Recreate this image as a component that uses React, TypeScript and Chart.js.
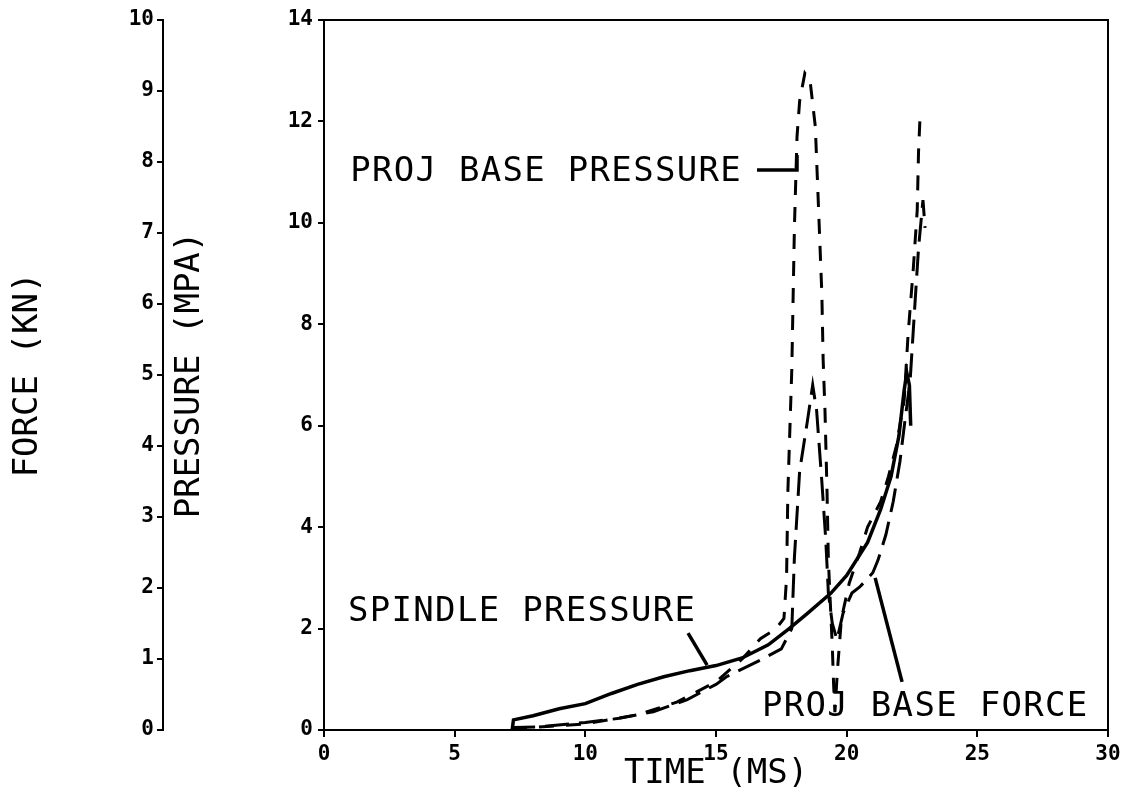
import React, { useEffect, useRef } from 'react';
import { Chart, registerables } from 'chart.js';

Chart.register(...registerables);

// ---- Data (time in ms, pressure in MPa) ----
const spindleTime = [7.2, 7.25, 8, 9, 10, 11, 12, 13, 14, 15, 16, 17, 17.8, 18.5, 19.4, 20, 20.8, 21.3, 21.7, 22.0, 22.2, 22.3, 22.4, 22.45];
const spindlePressure = [0.0, 0.2, 0.28, 0.42, 0.52, 0.72, 0.9, 1.05, 1.17, 1.27, 1.42, 1.68, 2.0, 2.3, 2.7, 3.05, 3.7, 4.35, 5.0, 5.8, 6.7, 7.05, 6.8, 6.0];

const forceTime = [7.2, 7.3, 8.15, 10, 11.3, 12.6, 13.9, 15, 15.4, 16.7, 17.5, 17.9, 18.0, 18.2, 18.5, 18.7, 18.85, 19.05, 19.2, 19.3, 19.45, 19.63, 19.86, 20.2, 20.5, 21.0, 21.2, 21.5, 21.78, 22.04, 22.23, 22.43, 22.6, 22.75, 22.92, 23.0];
const forceValue = [0.0, 0.05, 0.06, 0.15, 0.23, 0.36, 0.6, 0.9, 1.05, 1.38, 1.6, 2.0, 3.4, 5.1, 6.1, 6.8, 6.3, 4.9, 3.75, 2.7, 2.1, 1.78, 2.3, 2.7, 2.82, 3.1, 3.35, 3.85, 4.5, 5.3, 6.1, 6.9, 8.3, 9.5, 10.45, 9.9];

const basePressureTime = [7.2, 8, 10, 12, 13.5, 15, 16, 16.7, 17.3, 17.6, 17.7, 17.75, 17.9, 18.0, 18.1, 18.2, 18.4, 18.6, 18.8, 18.9, 19.05, 19.1, 19.17, 19.25, 19.3, 19.45, 19.5, 19.55, 19.65, 19.8, 20.1, 20.5, 20.8, 21.3, 21.6, 21.9, 22.2, 22.35, 22.55, 22.7, 22.75, 22.8];
const basePressureValue = [0.0, 0.05, 0.12, 0.3, 0.55, 0.95, 1.4, 1.8, 2.0, 2.2, 3.0, 4.7, 7.1, 9.9, 11.7, 12.4, 12.95, 12.8, 11.9, 10.6, 8.6, 7.3, 6.3, 4.67, 3.35, 1.65, 0.9, 0.35, 1.2, 2.2, 2.9, 3.5, 4.0, 4.5, 5.0, 5.6, 6.5, 7.8, 9.1, 10.25, 11.4, 12.0];

// Axis ranges / ticks
const timeRange = [0, 30];
const timeStep = 5;
const pressureRange = [0, 14];
const pressureStep = 2;
const forceRange = [0, 10];
const forceStep = 1;

// Label annotations (data coordinates on time / pressure axes)
const labelTexts = ['PROJ BASE PRESSURE', 'SPINDLE PRESSURE', 'PROJ BASE FORCE'];
const labelAnchors = [[1.0, 11.0], [0.92, 2.33], [16.76, 0.45]];
const labelPointers = [
  [[16.57, 11.04], [18.1, 11.04], [18.1, 11.34]],
  [[13.93, 1.91], [14.66, 1.28]],
  [[21.09, 3.0], [22.12, 0.95]],
];

const FONT = '"DejaVu Sans Mono", monospace';

const toPoints = (xs: number[], ys: number[]) => xs.map((x, i) => ({ x, y: ys[i] }));

const framePlugin = {
  id: 'frameAndLabels',
  beforeDraw(chart: any) {
    const ctx = chart.ctx;
    ctx.fillStyle = '#fff';
    ctx.fillRect(0, 0, chart.width, chart.height);
  },
  afterDraw(chart: any) {
    const { ctx, chartArea, scales } = chart;
    const xs = scales.x;
    const ys = scales.y;
    ctx.save();
    ctx.strokeStyle = '#000';
    ctx.lineWidth = 2;
    ctx.strokeRect(chartArea.left, chartArea.top, chartArea.right - chartArea.left, chartArea.bottom - chartArea.top);

    ctx.font = `34px ${FONT}`;
    (ctx as any).letterSpacing = '1.3px';
    ctx.textBaseline = 'middle';
    ctx.textAlign = 'left';
    ctx.fillStyle = '#000';
    labelTexts.forEach((t, i) => {
      const [ax, ay] = labelAnchors[i];
      ctx.fillText(t, xs.getPixelForValue(ax), ys.getPixelForValue(ay));
      const pts = labelPointers[i];
      ctx.beginPath();
      ctx.lineWidth = 3.5;
      pts.forEach(([px, py], j) => {
        const X = xs.getPixelForValue(px);
        const Y = ys.getPixelForValue(py);
        if (j === 0) ctx.moveTo(X, Y);
        else ctx.lineTo(X, Y);
      });
      ctx.stroke();
    });
    ctx.restore();
  },
};

const tickFont = { family: FONT, size: 21, weight: 'bold' as const };
const titleFont = { family: FONT, size: 34 };

export default function App() {
  const ref = useRef<HTMLCanvasElement>(null);

  useEffect(() => {
    if (!ref.current) return;
    const chart = new Chart(ref.current, {
      type: 'line',
      data: {
        datasets: [
          {
            label: 'Spindle pressure',
            data: toPoints(spindleTime, spindlePressure),
            borderColor: '#000',
            borderWidth: 3.5,
            pointRadius: 0,
            tension: 0,
            fill: false,
            yAxisID: 'y',
          },
          {
            label: 'Proj base force',
            data: toPoints(forceTime, forceValue),
            borderColor: '#000',
            borderWidth: 3,
            borderDash: [24, 10],
            pointRadius: 0,
            tension: 0,
            fill: false,
            yAxisID: 'y',
          },
          {
            label: 'Proj base pressure',
            data: toPoints(basePressureTime, basePressureValue),
            borderColor: '#000',
            borderWidth: 3,
            borderDash: [15, 12],
            pointRadius: 0,
            tension: 0,
            fill: false,
            yAxisID: 'y',
          },
        ],
      },
      options: {
        responsive: false,
        animation: false,
        devicePixelRatio: 1,
        layout: { padding: { left: 0, right: 21, top: 20, bottom: 0 } },
        plugins: { legend: { display: false }, tooltip: { enabled: false } },
        scales: {
          x: {
            type: 'linear',
            position: 'bottom',
            min: timeRange[0],
            max: timeRange[1],
            ticks: { stepSize: timeStep, color: '#000', font: tickFont, padding: 5, maxRotation: 0, autoSkip: false },
            grid: { display: true, drawOnChartArea: false, drawTicks: true, tickLength: 7, color: '#000', lineWidth: 2 },
            border: { display: true, color: '#000', width: 2 },
            title: { display: true, text: 'TIME (MS)', color: '#000', font: titleFont, padding: { top: 0, bottom: 6 } },
            afterFit: (s: any) => { s.height = 71; },
          },
          y: {
            type: 'linear',
            position: 'left',
            weight: 0,
            min: pressureRange[0],
            max: pressureRange[1],
            ticks: { stepSize: pressureStep, color: '#000', font: tickFont, padding: 5 },
            grid: { display: true, drawOnChartArea: false, drawTicks: true, tickLength: 6, color: '#000', lineWidth: 2 },
            border: { display: true, color: '#000', width: 2 },
            title: { display: true, text: 'PRESSURE (MPA)', color: '#000', font: titleFont, padding: { top: 7, bottom: 0 } },
            afterFit: (s: any) => { s.width = 161; },
          },
          yForce: {
            type: 'linear',
            position: 'left',
            weight: 1,
            min: forceRange[0],
            max: forceRange[1],
            ticks: { stepSize: forceStep, color: '#000', font: tickFont, padding: 3 },
            grid: { display: true, drawOnChartArea: false, drawTicks: true, tickLength: 6, color: '#000', lineWidth: 2 },
            border: { display: true, color: '#000', width: 2 },
            title: { display: true, text: 'FORCE (KN)', color: '#000', font: titleFont, padding: { top: 8, bottom: 0 } },
            afterFit: (s: any) => { s.width = 163; },
          },
        },
      },
      plugins: [framePlugin],
    } as any);
    return () => chart.destroy();
  }, []);

  return (
    <div style={{ position: 'absolute', left: 0, top: 0, width: 1129, height: 801, background: '#fff' }}>
      <canvas ref={ref} width={1129} height={801} style={{ display: 'block' }} />
    </div>
  );
}
